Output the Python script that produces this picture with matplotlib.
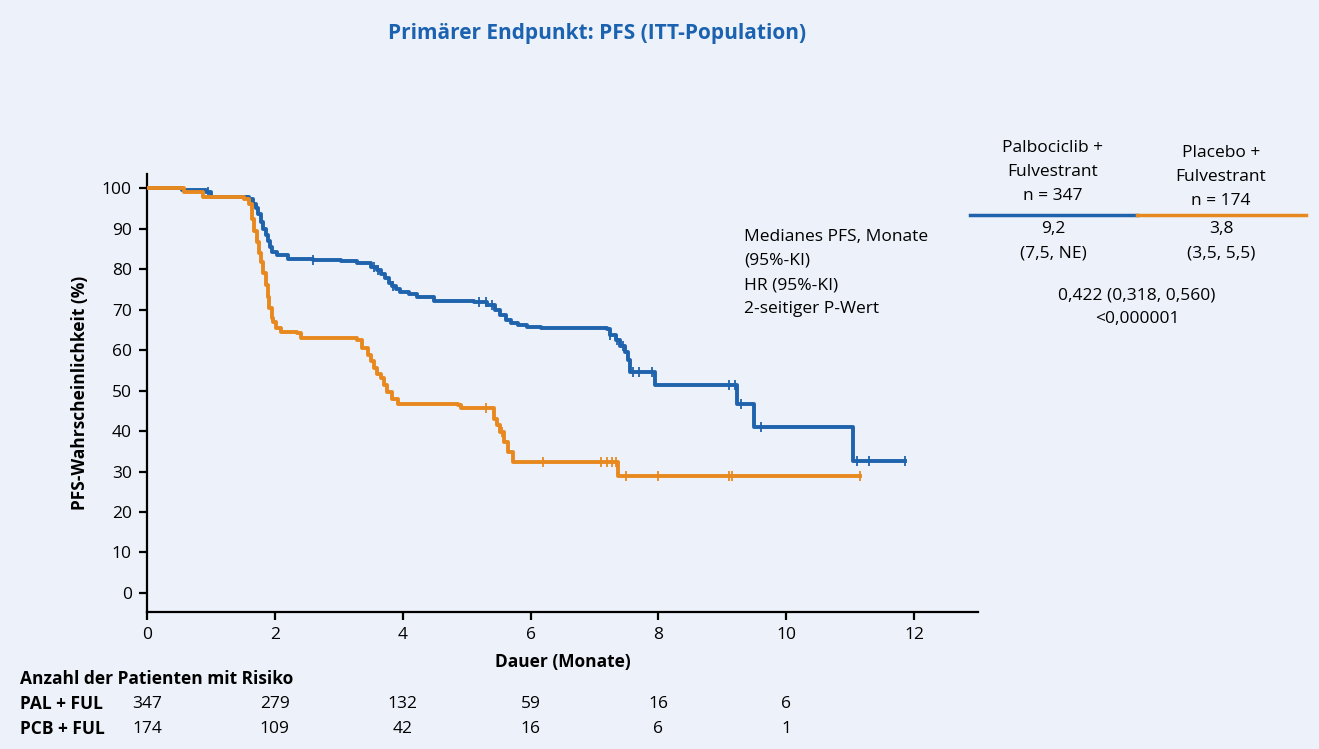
import numpy as np
import matplotlib.pyplot as plt
import matplotlib.transforms as mtransforms

plt.rcParams['font.family'] = ['Open Sans', 'DejaVu Sans']

# Kaplan-Meier steps (Monate, PFS %)
pal_t = [0, 0.55, 0.93, 1.0, 1.6, 1.66, 1.70, 1.74, 1.78, 1.82, 1.86, 1.89, 1.92, 1.96, 2.04, 2.20, 2.6, 3.03,
         3.29, 3.5, 3.6, 3.66, 3.72, 3.78, 3.84, 3.90, 3.96, 4.1, 4.23, 4.49, 5.11, 5.32, 5.45, 5.53, 5.62,
         5.69, 5.8, 5.95, 6.16, 7.19, 7.25, 7.33, 7.4, 7.47, 7.53, 7.56, 7.95, 9.23, 9.49, 11.05, 11.86]
pal_s = [100, 99.6, 99.0, 97.8, 97.3, 96.0, 95.0, 93.5, 91.7, 90.0, 88.4, 87.0, 85.5, 84.3, 83.5, 82.6, 82.3, 82.0,
         81.4, 80.6, 79.8, 78.9, 77.8, 76.5, 75.8, 75.0, 74.4, 73.8, 73.2, 72.1, 71.9, 71.1, 70.0, 68.6, 67.5,
         66.6, 66.1, 65.8, 65.4, 65.2, 63.8, 62.5, 61.0, 59.5, 57.5, 54.6, 51.4, 46.8, 41.1, 32.7, 32.7]
pcb_t = [0, 0.58, 0.87, 1.52, 1.6, 1.64, 1.68, 1.72, 1.75, 1.78, 1.82, 1.86, 1.89, 1.91, 1.95, 1.97, 2.02, 2.09,
         2.35, 2.41, 3.29, 3.37, 3.45, 3.50, 3.55, 3.60, 3.66, 3.71, 3.76, 3.84, 3.92, 4.86, 4.91, 5.35, 5.43,
         5.48, 5.53, 5.58, 5.64, 5.72, 7.37, 11.16]
pcb_s = [100, 99.1, 97.9, 97.3, 96.0, 92.5, 89.5, 86.7, 84.0, 81.8, 79.0, 76.0, 73.0, 70.3, 68.0, 67.0, 65.5, 64.5,
         64.1, 62.9, 62.5, 60.6, 58.8, 57.2, 55.5, 54.2, 53.0, 51.4, 49.7, 48.0, 46.6, 46.4, 45.8, 45.6, 43.1,
         41.5, 39.8, 37.3, 34.9, 32.3, 28.9, 28.9]

# zensierte Beobachtungen
pal_cens = [0.95, 2.6, 3.55, 3.62, 3.85, 5.2, 5.3, 5.4, 7.25, 7.35, 7.45, 7.6, 7.7, 7.9, 9.1, 9.2, 9.3, 9.6, 11.1, 11.3, 11.86]
pcb_cens = [5.3, 5.55, 6.2, 7.1, 7.2, 7.28, 7.34, 7.5, 8.0, 9.1, 9.15, 11.16]

xticks = [0, 2, 4, 6, 8, 10, 12]
yticks = list(range(0, 101, 10))
risk_times = [0, 2, 4, 6, 8, 10]
risk_pal = [347, 279, 132, 59, 16, 6]
risk_pcb = [174, 109, 42, 16, 6, 1]

blue = '#1f63ad'
orange = '#e8891f'
bg = '#edf1f9'
W, H = 1319, 749
fs = 12.5

fig = plt.figure(figsize=(W / 100, H / 100), dpi=100, facecolor=bg)
ax = fig.add_axes([147 / W, 1 - 612 / H, (978 - 147) / W, (612 - 174) / H])
ax.set_facecolor(bg)


def step_at(t, ts, ss):
    i = np.searchsorted(ts, t, side='right') - 1
    return np.array(ss)[i]


ax.plot(pal_t, pal_s, drawstyle='steps-post', color=blue, lw=2.8, zorder=3)
ax.plot(pcb_t, pcb_s, drawstyle='steps-post', color=orange, lw=2.8, zorder=4)
ax.plot(pal_cens, step_at(pal_cens, pal_t, pal_s), ls='none', marker='|', ms=7, mew=1.3, color=blue, zorder=3)
ax.plot(pcb_cens, step_at(pcb_cens, pcb_t, pcb_s), ls='none', marker='|', ms=7, mew=1.3, color=orange, zorder=4)

ax.set_xlim(0, 13)
ax.set_ylim(-4.7, 103.5)
ax.set_xticks(xticks)
ax.set_yticks(yticks)
for s in ['top', 'right']:
    ax.spines[s].set_visible(False)
for s in ['left', 'bottom']:
    ax.spines[s].set_linewidth(1.6)
ax.tick_params(direction='out', length=6, width=1.6, labelsize=fs, pad=5)
ax.set_xlabel('Dauer (Monate)', fontsize=fs, fontweight='bold', labelpad=7)
ax.set_ylabel('PFS-Wahrscheinlichkeit (%)', fontsize=fs, fontweight='bold', labelpad=9)

fig.text(597 / W, 1 - 33 / H, 'Primärer Endpunkt: PFS (ITT-Population)', ha='center', va='center',
         fontsize=15, fontweight='bold', color='#1b62b0')

# Textblock im Diagramm
lines = ['Medianes PFS, Monate', '(95%-KI)', 'HR (95%-KI)', '2-seitiger P-Wert']
for i, l in enumerate(lines):
    fig.text(744 / W, 1 - (237 + 24 * i) / H, l, ha='left', va='center', fontsize=fs)

# Tabelle rechts
for i, l in enumerate(['Palbociclib +', 'Fulvestrant', 'n = 347']):
    fig.text(1053 / W, 1 - (148 + 24 * i) / H, l, ha='center', va='center', fontsize=fs)
for i, l in enumerate(['Placebo +', 'Fulvestrant', 'n = 174']):
    fig.text(1221 / W, 1 - (153 + 24 * i) / H, l, ha='center', va='center', fontsize=fs)
fig.add_artist(plt.Line2D([970 / W, 1137 / W], [1 - 215 / H] * 2, color=blue, lw=2.5))
fig.add_artist(plt.Line2D([1137 / W, 1306 / W], [1 - 215 / H] * 2, color=orange, lw=2.5))
fig.text(1053 / W, 1 - 229 / H, '9,2', ha='center', va='center', fontsize=fs)
fig.text(1053 / W, 1 - 253 / H, '(7,5, NE)', ha='center', va='center', fontsize=fs)
fig.text(1221 / W, 1 - 229 / H, '3,8', ha='center', va='center', fontsize=fs)
fig.text(1221 / W, 1 - 253 / H, '(3,5, 5,5)', ha='center', va='center', fontsize=fs)
fig.text(1137 / W, 1 - 295 / H, '0,422 (0,318, 0,560)', ha='center', va='center', fontsize=fs)
fig.text(1137 / W, 1 - 319 / H, '<0,000001', ha='center', va='center', fontsize=fs)

# Patienten unter Risiko
fig.text(20 / W, 1 - 679 / H, 'Anzahl der Patienten mit Risiko', ha='left', va='center',
         fontsize=fs, fontweight='bold')
fig.text(20 / W, 1 - 704 / H, 'PAL + FUL', ha='left', va='center', fontsize=fs, fontweight='bold')
fig.text(20 / W, 1 - 729 / H, 'PCB + FUL', ha='left', va='center', fontsize=fs, fontweight='bold')
trans = mtransforms.blended_transform_factory(ax.transData, fig.transFigure)
for t, a, b in zip(risk_times, risk_pal, risk_pcb):
    ax.text(t, 1 - 704 / H, str(a), transform=trans, ha='center', va='center', fontsize=fs, clip_on=False)
    ax.text(t, 1 - 729 / H, str(b), transform=trans, ha='center', va='center', fontsize=fs, clip_on=False)

fig.savefig('out.png', dpi=100, facecolor=bg)
